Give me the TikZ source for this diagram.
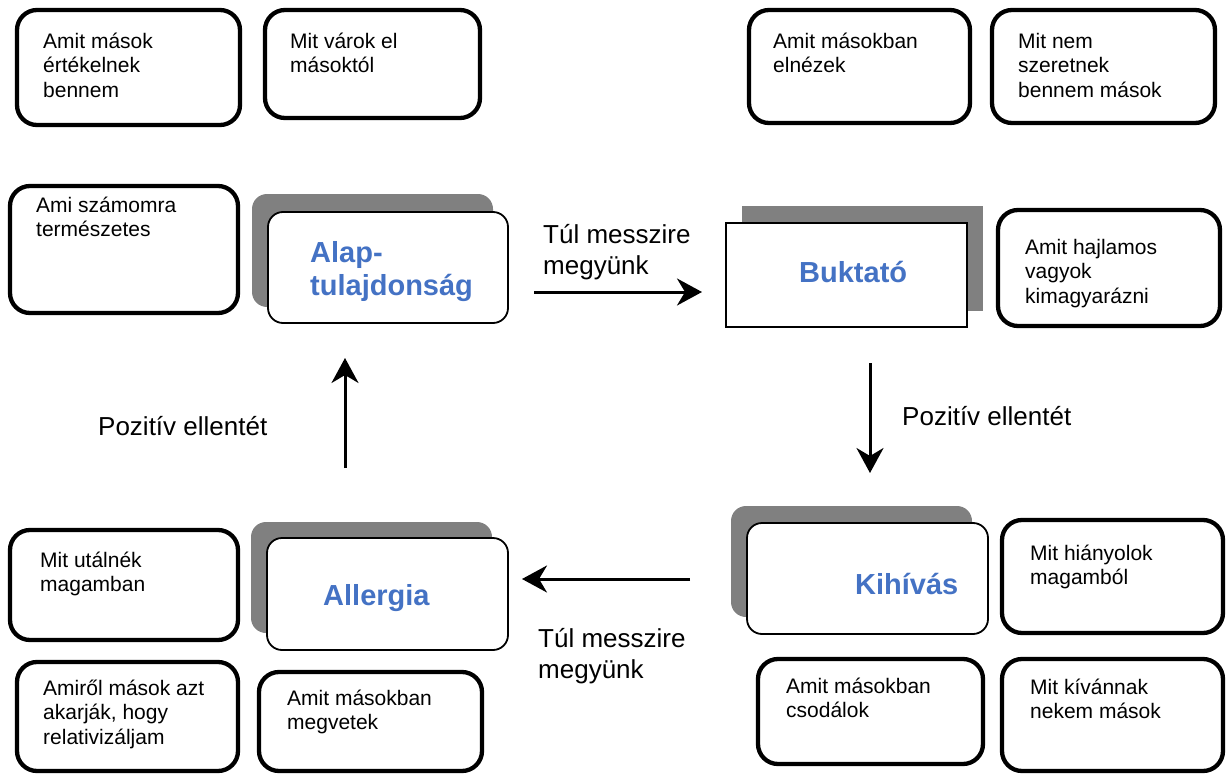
\documentclass[tikz,border=0pt]{standalone}
\usepackage{fontspec}
\setmainfont{Liberation Sans}
\usetikzlibrary{fit,arrows.meta}
\definecolor{titleblue}{RGB}{68,114,196}
\definecolor{shadowgray}{RGB}{128,128,128}
\begin{document}
\begin{tikzpicture}[x=1pt,y=-1pt,
 tbox/.style={draw, line width=4.3pt, rounded corners=20pt, inner sep=0pt},
 cbox/.style={draw, line width=1.8pt, fill=white, rounded corners=15pt, inner sep=0pt},
 sqbox/.style={draw, line width=1.8pt, fill=white, inner sep=0pt},
 shade/.style={fill=shadowgray},
 txt/.style={font=\fontsize{21}{24.5}\selectfont, align=left, inner sep=0pt, anchor=north west},
 title/.style={font=\fontsize{29}{33}\selectfont\bfseries, text=titleblue, inner sep=0pt},
 lbl/.style={font=\fontsize{26}{31}\selectfont, align=left, inner sep=0pt},
 arr/.style={line width=3pt, -{Stealth[length=25pt,width=27pt,inset=8pt]}}]
\useasboundingbox (0,0) rectangle (1227,776);

% text boxes (text tops: first baseline minus strut height)
\node[tbox, fit={(17,10) (240,125)}] (b1) {};
\node[txt] (t1) at (43,30.9) {\strut Amit mások\\értékelnek\\bennem};
\node[tbox, fit={(265,10) (480,118)}] (b2) {};
\node[txt] (t2) at (290,30.9) {\strut Mit várok el\\másoktól};
\node[tbox, fit={(749,10) (970,123)}] (b3) {};
\node[txt] (t3) at (773,30.9) {\strut Amit másokban\\elnézek};
\node[tbox, fit={(992,10) (1215,123)}] (b4) {};
\node[txt] (t4) at (1018,30.9) {\strut Mit nem\\szeretnek\\bennem mások};
\node[tbox, fit={(10,186) (238,313)}] (b5) {};
\node[txt] (t5) at (36,194.9) {\strut Ami számomra\\természetes};
\node[tbox, fit={(998,210) (1220,326)}] (b6) {};
\node[txt] (t6) at (1025,236.9) {\strut Amit hajlamos\\vagyok\\kimagyarázni};
\node[tbox, fit={(10,530) (238,640)}] (b7) {};
\node[txt] (t7) at (40,549.9) {\strut Mit utálnék\\magamban};
\node[tbox, fit={(1002,520) (1223,633)}] (b8) {};
\node[txt] (t8) at (1030,542.9) {\strut Mit hiányolok\\magamból};
\node[tbox, fit={(17,662) (238,771)}] (b9) {};
\node[txt] (t9) at (43,677.9) {\strut Amiről mások azt\\akarják, hogy\\relativizáljam};
\node[tbox, fit={(259,672) (482,771)}] (b10) {};
\node[txt] (t10) at (287,687.9) {\strut Amit másokban\\megvetek};
\node[tbox, fit={(758,659) (983,764)}] (b11) {};
\node[txt] (t11) at (786,675.9) {\strut Amit másokban\\csodálok};
\node[tbox, fit={(1002,659) (1223,771)}] (b12) {};
\node[txt] (t12) at (1030,676.9) {\strut Mit kívánnak\\nekem mások};

% central boxes with shadows
\fill[shade, rounded corners=15pt] (252,194) rectangle (493,307);
\node[cbox, fit={(268,212) (508,323)}] (alap) {};
\node[title, align=left, anchor=north west] (alapt) at (310,239) {\strut Alap-\\tulajdonság};

\fill[shade] (742,206) rectangle (983,311);
\node[sqbox, fit={(726,223) (967,327)}] (bukt) {};
\node[title, anchor=base west] (buktt) at (799,282) {Buktató};

\fill[shade, rounded corners=15pt] (731,506) rectangle (972,617);
\node[cbox, fit={(747,523) (988,634)}] (kihi) {};
\node[title, anchor=base west] (kihit) at (855,594) {Kihívás};

\fill[shade, rounded corners=15pt] (251,522) rectangle (492,633);
\node[cbox, fit={(267,538) (508,650)}] (allg) {};
\node[title, anchor=base west] (allgt) at (323,605) {Allergia};

% arrows
\coordinate (a1s) at (534,292); \coordinate (a1e) at (702,292);
\coordinate (a2s) at (870,363); \coordinate (a2e) at (870,473);
\coordinate (a3s) at (690,579); \coordinate (a3e) at (522,579);
\coordinate (a4s) at (345,468); \coordinate (a4e) at (345,358);
\draw[arr] (a1s) -- (a1e);
\draw[arr] (a2s) -- (a2e);
\draw[arr] (a3s) -- (a3e);
\draw[arr] (a4s) -- (a4e);

% labels
\node[lbl, anchor=north west] (l1) at (543,221.3) {\strut Túl messzire\\megyünk};
\node[lbl, anchor=north west] (l3) at (538,625.3) {\strut Túl messzire\\megyünk};
\node[lbl, anchor=base west] (l2) at (902,425) {Pozitív ellentét};
\node[lbl, anchor=base west] (l4) at (98,435) {Pozitív ellentét};
\end{tikzpicture}
\end{document}
